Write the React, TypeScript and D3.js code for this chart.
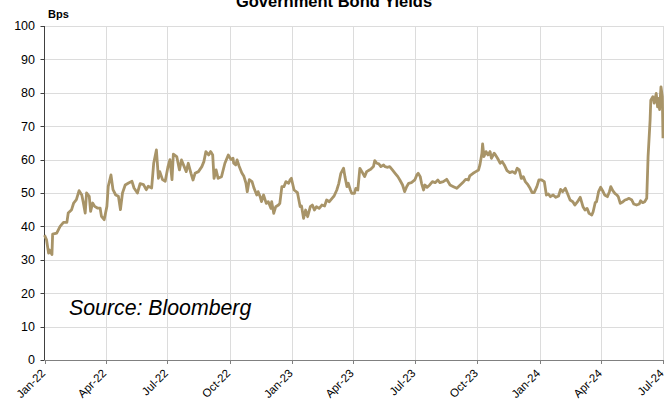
import React from "react";
import * as d3 from "d3";

const TITLE = "Government Bond Yields";
const UNIT = "Bps";
const SOURCE = "Source: Bloomberg";

const yTicks = [0, 10, 20, 30, 40, 50, 60, 70, 80, 90, 100];
const xTickDates = [
  "2022-01-01", "2022-04-01", "2022-07-01", "2022-10-01",
  "2023-01-01", "2023-04-01", "2023-07-01", "2023-10-01",
  "2024-01-01", "2024-04-01", "2024-07-01",
];

const dates = [
  "2022-01-01","2022-01-04","2022-01-07","2022-01-08","2022-01-12","2022-01-13","2022-01-19","2022-01-24","2022-01-29","2022-02-03",
  "2022-02-05","2022-02-10","2022-02-13","2022-02-17","2022-02-21","2022-02-25","2022-02-27","2022-03-02","2022-03-04","2022-03-08",
  "2022-03-10","2022-03-13","2022-03-16","2022-03-20","2022-03-24","2022-03-26","2022-03-30","2022-04-03","2022-04-05","2022-04-09",
  "2022-04-12","2022-04-16","2022-04-20","2022-04-23","2022-04-26","2022-04-30","2022-05-05","2022-05-10","2022-05-13","2022-05-18",
  "2022-05-22","2022-05-27","2022-05-31","2022-06-03","2022-06-08","2022-06-11","2022-06-15","2022-06-18","2022-06-20","2022-06-24",
  "2022-06-28","2022-07-02","2022-07-05","2022-07-08","2022-07-10","2022-07-15","2022-07-19","2022-07-22","2022-07-26","2022-07-29",
  "2022-08-01","2022-08-05","2022-08-08","2022-08-11","2022-08-16","2022-08-21","2022-08-24","2022-08-27","2022-08-31","2022-09-03",
  "2022-09-06","2022-09-08","2022-09-11","2022-09-14","2022-09-19","2022-09-24","2022-09-29","2022-10-03","2022-10-06","2022-10-07",
  "2022-10-10","2022-10-12","2022-10-15","2022-10-19","2022-10-22","2022-10-25","2022-10-27","2022-10-30","2022-11-03","2022-11-06",
  "2022-11-10","2022-11-12","2022-11-15","2022-11-17","2022-11-20","2022-11-24","2022-11-27","2022-12-01","2022-12-02","2022-12-05",
  "2022-12-08","2022-12-12","2022-12-14","2022-12-17","2022-12-20","2022-12-23","2022-12-27","2022-12-29","2022-12-31","2023-01-04",
  "2023-01-09","2023-01-13","2023-01-15","2023-01-18","2023-01-21","2023-01-24","2023-01-28","2023-01-31","2023-02-03","2023-02-06",
  "2023-02-10","2023-02-14","2023-02-18","2023-02-21","2023-02-25","2023-03-01","2023-03-04","2023-03-08","2023-03-11","2023-03-14",
  "2023-03-18","2023-03-20","2023-03-23","2023-03-25","2023-03-28","2023-03-30","2023-04-03","2023-04-05","2023-04-08","2023-04-11",
  "2023-04-14","2023-04-18","2023-04-21","2023-04-25","2023-04-27","2023-05-01","2023-05-03","2023-05-06","2023-05-09","2023-05-12",
  "2023-05-16","2023-05-18","2023-05-22","2023-05-25","2023-05-29","2023-06-02","2023-06-06","2023-06-09","2023-06-13","2023-06-16",
  "2023-06-19","2023-06-22","2023-06-26","2023-07-01","2023-07-04","2023-07-06","2023-07-09","2023-07-11","2023-07-14","2023-07-16",
  "2023-07-19","2023-07-23","2023-07-27","2023-07-31","2023-08-04","2023-08-07","2023-08-12","2023-08-17","2023-08-22","2023-08-27",
  "2023-09-01","2023-09-06","2023-09-11","2023-09-14","2023-09-18","2023-09-20","2023-09-25","2023-09-29","2023-10-03","2023-10-05",
  "2023-10-08","2023-10-09","2023-10-11","2023-10-14","2023-10-17","2023-10-20","2023-10-22","2023-10-26","2023-10-28","2023-10-31",
  "2023-11-04","2023-11-07","2023-11-10","2023-11-14","2023-11-18","2023-11-22","2023-11-26","2023-11-29","2023-12-02","2023-12-05",
  "2023-12-08","2023-12-11","2023-12-15","2023-12-18","2023-12-21","2023-12-24","2023-12-28","2023-12-31","2024-01-04","2024-01-08",
  "2024-01-11","2024-01-14","2024-01-17","2024-01-21","2024-01-25","2024-01-29","2024-02-01","2024-02-04","2024-02-08","2024-02-11",
  "2024-02-15","2024-02-19","2024-02-22","2024-02-26","2024-03-01","2024-03-05","2024-03-08","2024-03-11","2024-03-14","2024-03-18",
  "2024-03-20","2024-03-23","2024-03-25","2024-03-28","2024-03-31","2024-04-03","2024-04-06","2024-04-10","2024-04-13","2024-04-15",
  "2024-04-18","2024-04-21","2024-04-24","2024-04-26","2024-04-29","2024-05-03","2024-05-06","2024-05-09","2024-05-12","2024-05-16",
  "2024-05-19","2024-05-23","2024-05-27","2024-05-29","2024-06-01","2024-06-04","2024-06-07","2024-06-09","2024-06-12","2024-06-13",
  "2024-06-16","2024-06-18","2024-06-21","2024-06-23","2024-06-24","2024-06-26","2024-06-28","2024-06-30","2024-07-01",
];

const values = [
  37.4, 36.0, 32.0, 33.0, 31.6, 37.7, 38.0, 40.0, 41.2, 41.2,
  44.0, 45.0, 47.0, 48.0, 50.7, 49.4, 47.4, 44.0, 50.0, 49.0,
  44.5, 47.0, 46.0, 45.5, 45.5, 43.0, 42.0, 46.0, 52.0, 55.4,
  51.0, 49.4, 49.0, 45.0, 50.0, 52.4, 53.0, 53.5, 51.5, 50.0,
  52.8, 52.5, 51.0, 52.0, 51.5, 58.9, 62.9, 54.4, 56.4, 54.0,
  53.5, 57.8, 60.0, 54.0, 61.6, 60.9, 56.9, 59.9, 57.9, 56.4,
  58.9, 55.9, 53.9, 55.9, 56.4, 57.9, 59.4, 62.4, 61.4, 62.4,
  61.4, 54.4, 56.9, 54.4, 54.9, 58.9, 61.4, 60.0, 60.4, 58.9,
  58.4, 59.9, 58.0, 56.0, 55.0, 53.0, 50.4, 54.0, 53.4, 51.4,
  49.4, 50.4, 48.9, 47.4, 49.4, 46.9, 47.4, 45.4, 47.4, 43.9,
  45.9, 46.4, 46.9, 51.9, 51.9, 53.4, 52.9, 53.9, 54.4, 50.9,
  50.1, 45.9, 46.1, 42.4, 44.9, 42.9, 45.9, 46.4, 44.9, 45.9,
  45.4, 46.4, 46.1, 47.9, 47.4, 48.4, 49.1, 50.9, 52.9, 55.9,
  57.4, 54.9, 51.9, 52.9, 50.9, 49.9, 49.9, 51.4, 50.9, 57.4,
  56.4, 54.9, 56.4, 56.9, 57.1, 57.9, 59.7, 58.9, 58.7, 57.9,
  58.4, 57.9, 57.7, 57.9, 56.9, 55.9, 54.9, 53.9, 52.4, 50.4,
  51.9, 52.9, 53.1, 53.9, 55.4, 55.9, 54.9, 52.9, 50.9, 52.4,
  51.7, 52.4, 53.4, 53.1, 53.9, 53.1, 53.4, 54.1, 52.4, 51.9,
  51.4, 52.4, 53.4, 54.1, 53.9, 55.1, 55.9, 56.4, 56.9, 58.4,
  61.9, 64.7, 60.9, 62.4, 61.4, 62.4, 60.4, 61.9, 61.4, 60.4,
  58.9, 59.4, 58.4, 56.7, 56.1, 56.4, 55.9, 57.4, 56.9, 54.4,
  54.9, 53.4, 52.4, 51.4, 50.1, 50.1, 51.9, 53.9, 53.9, 53.4,
  49.4, 49.7, 48.9, 49.4, 48.7, 49.1, 51.1, 50.4, 51.4, 49.9,
  47.9, 47.4, 46.4, 47.4, 48.7, 45.9, 44.9, 45.4, 43.9, 43.4,
  44.4, 47.1, 47.4, 50.4, 51.7, 50.7, 49.4, 48.9, 50.4, 51.9,
  50.7, 49.9, 49.4, 48.9, 46.9, 47.4, 47.9, 48.1, 48.4, 47.9,
  46.7, 46.4, 46.7, 47.7, 47.1, 47.4, 48.4, 60.9, 71.9, 77.8,
  78.8, 76.9, 79.8, 75.8, 78.3, 75.0, 81.8, 78.8, 66.4,
];

const W = 664;
const H = 403;
const M = { left: 44.5, right: 663, top: 26, bottom: 360 };
const LINE = "#a89468";
const FONT = "Arial, 'Liberation Sans', sans-serif";

export default function App() {
  const parse = d3.utcParse("%Y-%m-%d");
  const data = dates.map((d, i) => ({ date: parse(d) as Date, value: values[i] }));
  const x = d3
    .scaleUtc()
    .domain([parse("2022-01-01") as Date, parse("2024-07-01") as Date])
    .range([M.left, M.right]);
  const y = d3.scaleLinear().domain([0, 100]).range([M.bottom, M.top]);
  const fmt = d3.utcFormat("%b-%y");
  const line = d3
    .line<{ date: Date; value: number }>()
    .x((d) => x(d.date))
    .y((d) => y(d.value));
  const xt = xTickDates.map((d) => parse(d) as Date);

  return (
    <svg
      width={W}
      height={H}
      style={{ position: "absolute", left: 0, top: 0, background: "#fff" }}
      fontFamily={FONT}
    >
      <rect x={0} y={0} width={W} height={H} fill="#fff" />
      {/* gridlines */}
      {yTicks.filter((t) => t > 0).map((t) => (
        <line key={"gy" + t} x1={M.left} x2={M.right + 2} y1={Math.round(y(t)) + 0.5} y2={Math.round(y(t)) + 0.5} stroke="#dcdcdc" strokeWidth={1} />
      ))}
      {xt.slice(1).map((d, i) => (
        <line key={"gx" + i} x1={Math.round(x(d)) + 0.5} x2={Math.round(x(d)) + 0.5} y1={M.top} y2={M.bottom} stroke="#dcdcdc" strokeWidth={1} />
      ))}
      {/* axes */}
      <line x1={M.left} x2={M.left} y1={M.top} y2={M.bottom} stroke="#404040" strokeWidth={1} />
      {yTicks.map((t) => (
        <g key={"yt" + t}>
          <line x1={M.left - 4} x2={M.left} y1={Math.round(y(t)) + 0.5} y2={Math.round(y(t)) + 0.5} stroke="#404040" />
          <text x={35} y={y(t)} dy="0.35em" textAnchor="end" fontSize={12.5} fill="#000">
            {t}
          </text>
        </g>
      ))}
      <line x1={M.left} x2={W} y1={M.bottom + 0.5} y2={M.bottom + 0.5} stroke="#808080" strokeWidth={1} />
      {xt.map((d, i) => (
        <g key={"xt" + i}>
          <line x1={Math.round(x(d)) + 0.5} x2={Math.round(x(d)) + 0.5} y1={M.bottom} y2={M.bottom + 4} stroke="#808080" />
          <text
            transform={`translate(${x(d) + 1.5},${M.bottom + 14}) rotate(-45)`}
            textAnchor="end"
            fontSize={11.5}
            fill="#000"
          >
            {fmt(d)}
          </text>
        </g>
      ))}
      {/* series */}
      <path d={line(data) || ""} fill="none" stroke={LINE} strokeWidth={2.8} strokeLinejoin="round" />
      {/* labels */}
      <text x={334} y={7} textAnchor="middle" fontSize={16.5} fontWeight="bold" fill="#000">
        {TITLE}
      </text>
      <text x={48} y={18} fontSize={11} fontWeight="bold" fill="#000">
        {UNIT}
      </text>
      <text x={69} y={315} fontSize={21.3} fontStyle="italic" fill="#000">
        {SOURCE}
      </text>
    </svg>
  );
}
